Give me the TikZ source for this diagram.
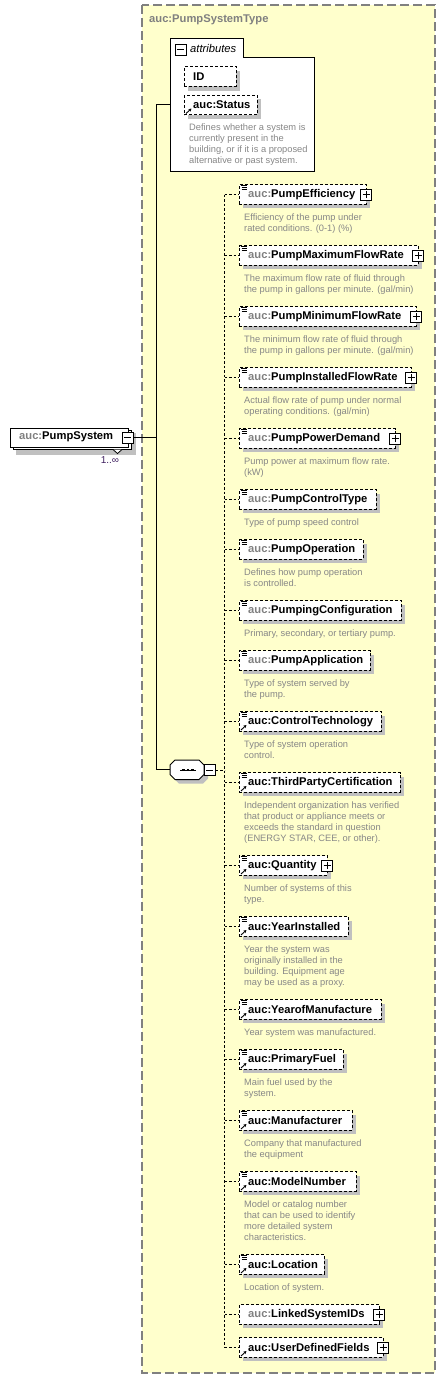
\documentclass[tikz,border=0pt]{standalone}
\usepackage{fontspec}
\setmainfont{Liberation Sans}
\usetikzlibrary{arrows.meta}
\definecolor{yel}{RGB}{255,255,204}
\definecolor{bord}{RGB}{128,128,128}
\definecolor{shad}{RGB}{192,192,192}
\definecolor{pfx}{RGB}{128,128,128}
\definecolor{dscc}{RGB}{135,135,135}
\definecolor{mult}{RGB}{64,32,96}
\newcommand\pg{\textcolor{pfx}{auc:}}
\newcommand\pb{auc:}
\tikzset{
 lblf/.style={font=\fontsize{11.2}{13}\selectfont\bfseries},
 elbox/.style={draw, dash pattern=on 3pt off 2pt, line width=0.9pt, fill=white, minimum height=19.5pt, inner sep=0pt},
 lbl/.style={lblf, inner sep=0pt, anchor=west},
 dsc/.style={font=\fontsize{9.3}{11}\selectfont, text=dscc, align=left, inner sep=0pt, anchor=north west},
 dashc/.style={dash pattern=on 2.5pt off 2pt, line width=0.9pt},
 solidc/.style={line width=1pt},
 iconbox/.style={draw, line width=1pt, fill=white, minimum size=11pt, inner sep=0pt},
 iconplus/.style={iconbox, path picture={
   \draw[line width=1pt] ([xshift=-3.5pt]path picture bounding box.center) -- ([xshift=3.5pt]path picture bounding box.center);
   \draw[line width=1pt] ([yshift=-3.5pt]path picture bounding box.center) -- ([yshift=3.5pt]path picture bounding box.center);}},
 iconminus/.style={iconbox, path picture={
   \draw[line width=1pt] ([xshift=-3.5pt]path picture bounding box.center) -- ([xshift=3.5pt]path picture bounding box.center);}},
 refarrow/.style={line width=0.9pt, -{Stealth[length=3pt,width=3.2pt]}},
}
% #1 name #2 y #3 right x #4 label #5 list icon #6 ref #7 plus #8 desc
\newcommand\elem[8]{%
 \fill[shad] (243,#2-5.75) rectangle (#3+4,#2+13.75);
 \node[elbox, minimum width={#3-239}, anchor=west] (#1) at (239,#2) {};
 \node[lbl] (#1l) at (248,#2) {#4};
 \ifnum#5=1
  \draw[line width=0.8pt] (240.5,#2-9.25) -- (247,#2-9.25);
  \draw[line width=0.8pt] (241.5,#2-7.25) -- (247,#2-7.25);
  \draw[line width=0.8pt] (241.5,#2-5.25) -- (247,#2-5.25);
 \fi
 \ifnum#6=1
  \draw[refarrow] (241,#2+8.5) -- (246.5,#2+3.5);
 \fi
 \ifnum#7=1
  \node[iconplus] (#1p) at (#3,#2) {};
 \fi
 \if\relax\detokenize{#8}\relax\else
  \node[dsc] (#1d) at (244,#2+19) {#8};
 \fi
}
\begin{document}
\begin{tikzpicture}[x=1pt,y=-1pt]
\useasboundingbox (0,0) rectangle (446,1379);
% outer complex type box
\draw[bord, fill=yel, line width=1.3pt, dash pattern=on 9pt off 4pt] (142,5) rectangle (435,1373);
\node[lblf, text=pfx, anchor=west, inner sep=0] (title) at (149,19.5) {auc:PumpSystemType};
% attributes group
\node[minimum width=144pt, minimum height=133pt, anchor=north west, inner sep=0] (attr) at (170,38) {};
\draw[line width=1pt, fill=white] (170,38) -- (243,38) -- (243,57) -- (314,57) -- (314,171) -- (170,171) -- cycle;
\node[iconminus] (attrmin) at (180.5,49.5) {};
\node[font=\fontsize{11.2}{13}\selectfont\itshape, anchor=west, inner sep=0] (attrt) at (190,48.5) {attributes};
% ID
\fill[shad] (188,70.5) rectangle (240,90.5);
\node[elbox, minimum width=52pt, anchor=west] (idb) at (184,76.5) {};
\node[lbl] (idl) at (193,76.5) {ID};
% Status
\fill[shad] (188,99) rectangle (261,119);
\node[elbox, minimum width=73pt, anchor=west] (stb) at (184,105) {};
\node[lbl] (stl) at (193,105) {auc:Status};
\draw[refarrow] (186,113.5) -- (191.5,108.5);
\node[dsc] (std) at (189,124) {Defines whether a system is\\currently present in the\\building, or if it is a proposed\\alternative or past system.};
% PumpSystem element
\fill[shad] (16,433) rectangle (136,454.5);
\draw[line width=1pt, fill=white] (13,430.5) rectangle (131,449.5);
\node[draw, line width=1pt, fill=white, minimum width=118pt, minimum height=19pt, anchor=north west, inner sep=0] (ps) at (10,427.5) {};
\node[lbl] (psl) at (19,437) {\pg PumpSystem};
\node[iconminus] (psmin) at (127.5,437.5) {};
\draw[line width=0.8pt, fill=white] (113,449.5) -- (117.5,453.5) -- (122,449.5);
\node[font=\fontsize{10}{12}\selectfont, text=mult, inner sep=0] (mul) at (110,460.5) {1..∞};
% sequence compositor
\fill[shad] (179,764) -- (203,764) -- (208,769) -- (208,778.5) -- (203,783.5) -- (179,783.5) -- (174,778.5) -- (174,769) -- cycle;
\node[minimum width=34pt, minimum height=19.5pt, inner sep=0] (seq) at (187,769.75) {};
\draw[line width=1pt, fill=white] (175,760) -- (199,760) -- (204,765) -- (204,774.5) -- (199,779.5) -- (175,779.5) -- (170,774.5) -- (170,765) -- cycle;
\draw[line width=1pt] (180,770) -- (196,770);
\foreach \xx in {183.5,188,192.5} \fill (\xx-1.3,768.7) rectangle (\xx+1.3,771.3);
\node[iconminus] (seqmin) at (209.5,770) {};
\coordinate (sb) at (156,437.5);
\coordinate (bus) at (224.5,770);
% children
\elem{c1}{194.5}{366}{\pg PumpEfficiency}{1}{0}{1}{Efficiency of the pump under\\rated conditions. (0-1) (\%)}
\elem{c2}{255.5}{418}{\pg PumpMaximumFlowRate}{1}{0}{1}{The maximum flow rate of fluid through\\the pump in gallons per minute. (gal/min)}
\elem{c3}{316.5}{416}{\pg PumpMinimumFlowRate}{1}{0}{1}{The minimum flow rate of fluid through\\the pump in gallons per minute. (gal/min)}
\elem{c4}{377.5}{411}{\pg PumpInstalledFlowRate}{1}{0}{1}{Actual flow rate of pump under normal\\operating conditions. (gal/min)}
\elem{c5}{438.5}{395}{\pg PumpPowerDemand}{1}{0}{1}{Pump power at maximum flow rate.\\(kW)}
\elem{c6}{499.5}{376}{\pg PumpControlType}{1}{0}{0}{Type of pump speed control}
\elem{c7}{549.5}{363}{\pg PumpOperation}{1}{0}{0}{Defines how pump operation\\is controlled.}
\elem{c8}{610.5}{401}{\pg PumpingConfiguration}{1}{0}{0}{Primary, secondary, or tertiary pump.}
\elem{c9}{660.5}{370}{\pg PumpApplication}{1}{0}{0}{Type of system served by\\the pump.}
\elem{c10}{721.5}{381}{\pb ControlTechnology}{1}{1}{0}{Type of system operation\\control.}
\elem{c11}{782.5}{400}{\pb ThirdPartyCertification}{1}{1}{0}{Independent organization has verified\\that product or appliance meets or\\exceeds the standard in question\\(ENERGY STAR, CEE, or other).}
\elem{c12}{865.5}{327}{\pb Quantity}{1}{1}{1}{Number of systems of this\\type.}
\elem{c13}{926.5}{348}{\pb YearInstalled}{1}{1}{0}{Year the system was\\originally installed in the\\building. Equipment age\\may be used as a proxy.}
\elem{c14}{1009.5}{381}{\pb YearofManufacture}{1}{1}{0}{Year system was manufactured.}
\elem{c15}{1059.5}{343}{\pb PrimaryFuel}{1}{1}{0}{Main fuel used by the\\system.}
\elem{c16}{1120.5}{352}{\pb Manufacturer}{1}{1}{0}{Company that manufactured\\the equipment}
\elem{c17}{1181.5}{356}{\pb ModelNumber}{1}{1}{0}{Model or catalog number\\that can be used to identify\\more detailed system\\characteristics.}
\elem{c18}{1264.5}{324}{\pb Location}{1}{1}{0}{Location of system.}
\elem{c19}{1314.5}{379}{\pg LinkedSystemIDs}{0}{0}{1}{}
\elem{c20}{1347.5}{383}{\pb UserDefinedFields}{0}{1}{1}{}
% solid connectors
\draw[solidc] (attr.west) -- (attr.west -| sb) -- (seq.west -| sb) -- (seq.west);
\draw[solidc] (psmin.east) -- (sb);
% dashed connectors
\draw[dashc] (seqmin.east) -- (bus);
\draw[dashc] (c1.west -| bus) -- (c20.west -| bus);
\foreach \c in {c1,c2,c3,c4,c5,c6,c7,c8,c9,c10,c11,c12,c13,c14,c15,c16,c17,c18,c19,c20}
  \draw[dashc] (\c.west -| bus) -- (\c.west);
\end{tikzpicture}
\end{document}
